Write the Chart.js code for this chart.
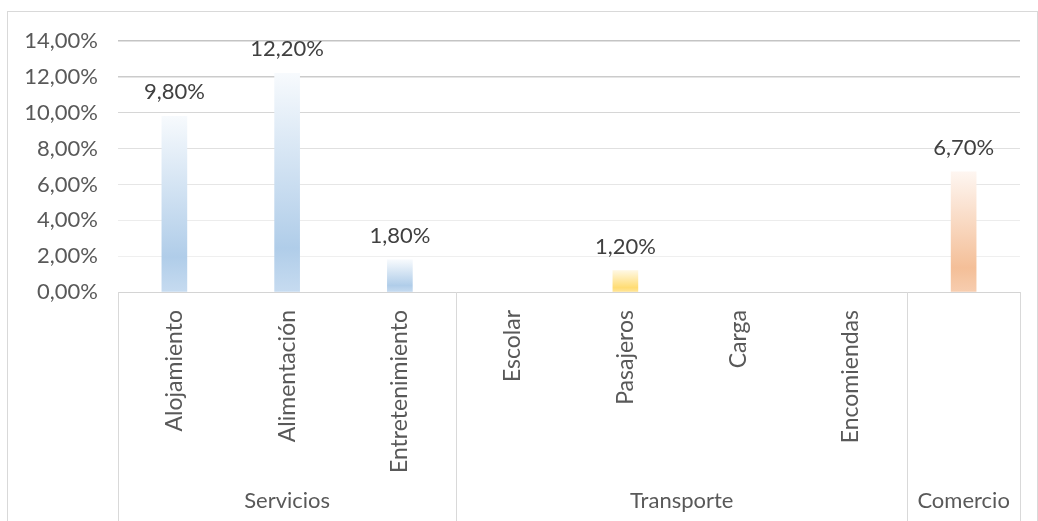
<!DOCTYPE html>
<html>
<head>
<meta charset="utf-8">
<script src="https://cdn.jsdelivr.net/npm/chart.js@4"></script>
<style>
  html, body { margin: 0; padding: 0; background: #fff; }
  #wrap { position: relative; width: 1038px; height: 521px; }
</style>
</head>
<body>
<div id="wrap"><canvas id="chart" width="1038" height="521"></canvas></div>
<script>
// chart data
const categories = ['Alojamiento', 'Alimentación', 'Entretenimiento', 'Escolar', 'Pasajeros', 'Carga', 'Encomiendas', ''];
const values = [9.8, 12.2, 1.8, 0, 1.2, 0, 0, 6.7];
const groups = ['Servicios', 'Transporte', 'Comercio'];
const groupSizes = [3, 4, 1];
const yTicks = [0, 2, 4, 6, 8, 10, 12, 14];

// colour per group: [top, full, bottom]
const groupColors = [
  ['#f7fafd', '#b0cde9', '#c6dbf0'],
  ['#fff8e3', '#ffdc73', '#ffe59a'],
  ['#fef6f1', '#f4bf98', '#f7cdaf']
];

const fontFamily = 'Lato, "Open Sans", sans-serif';
const axisColor = '#d9d9d9';
// gridlines look darker towards the top in the original
const gridColors = { 0: '#d4d4d4', 2: '#efefef', 4: '#ececec', 6: '#e6e6e6', 8: '#e0e0e0', 10: '#d6d6d6', 12: '#cbcbcb', 14: '#c4c4c4' };

function groupOf(index) {
  let acc = 0;
  for (let g = 0; g < groupSizes.length; g++) {
    acc += groupSizes[g];
    if (index < acc) return g;
  }
  return groupSizes.length - 1;
}

function fmt(v) {
  return v.toFixed(2).replace('.', ',') + '%';
}

function barFill(ctx) {
  const chart = ctx.chart;
  const v = values[ctx.dataIndex];
  const cols = groupColors[groupOf(ctx.dataIndex)];
  if (!v) return 'rgba(0,0,0,0)';
  if (!chart.chartArea || !chart.scales.y) return cols[1];
  const y = chart.scales.y;
  const top = y.getPixelForValue(v);
  const base = y.getPixelForValue(0);
  const g = chart.ctx.createLinearGradient(0, top, 0, base);
  g.addColorStop(0, cols[0]);
  g.addColorStop(0.8, cols[1]);
  g.addColorStop(1, cols[2]);
  return g;
}

// labels above bars, group labels and separators under the axis, outer frame
const extras = {
  id: 'extras',
  afterDatasetsDraw(chart) {
    const c = chart.ctx;
    const meta = chart.getDatasetMeta(0);
    c.save();
    c.font = '22px ' + fontFamily;
    c.fillStyle = '#404040';
    c.textAlign = 'center';
    c.textBaseline = 'middle';
    meta.data.forEach((bar, i) => {
      if (!values[i]) return;
      c.fillText(fmt(values[i]), bar.x, bar.y - 24);
    });
    c.restore();
  },
  afterDraw(chart) {
    const c = chart.ctx;
    const area = chart.chartArea;
    const step = (area.right - area.left) / categories.length;
    c.save();
    c.strokeStyle = axisColor;
    c.lineWidth = 1;
    // outer frame
    c.strokeRect(7.5, 11.5, 1030, 520);
    // group separators
    let idx = 0;
    const bounds = [area.left];
    groupSizes.forEach(n => { idx += n; bounds.push(area.left + idx * step); });
    bounds.forEach(bx => {
      const px = Math.round(bx) + 0.5;
      c.beginPath();
      c.moveTo(px, area.bottom);
      c.lineTo(px, 521);
      c.stroke();
    });
    // group labels
    c.font = '22px ' + fontFamily;
    c.fillStyle = '#595959';
    c.textAlign = 'center';
    c.textBaseline = 'middle';
    groups.forEach((name, g) => {
      c.fillText(name, (bounds[g] + bounds[g + 1]) / 2, 501);
    });
    c.restore();
  }
};

new Chart(document.getElementById('chart'), {
  type: 'bar',
  data: {
    labels: categories,
    datasets: [{
      data: values,
      backgroundColor: barFill,
      borderWidth: 0,
      barThickness: 25
    }]
  },
  options: {
    responsive: false,
    animation: false,
    layout: { padding: { top: 41, right: 18, left: 0, bottom: 0 } },
    plugins: {
      legend: { display: false },
      tooltip: { enabled: false }
    },
    scales: {
      x: {
        grid: { display: false },
        border: { display: false },
        ticks: {
          minRotation: 90,
          maxRotation: 90,
          autoSkip: false,
          padding: 10,
          color: '#595959',
          font: { family: fontFamily, size: 23 }
        },
        afterFit(scale) { scale.height = 229; }
      },
      y: {
        min: 0,
        max: 14,
        afterBuildTicks(scale) { scale.ticks = yTicks.map(v => ({ value: v })); },
        grid: {
          color: ctx => (ctx.tick && gridColors[ctx.tick.value]) || axisColor,
          lineWidth: ctx => ctx.tick && ctx.tick.value >= 12 ? 1.5 : 1,
          drawTicks: false
        },
        border: { display: false },
        ticks: {
          padding: 20,
          color: '#595959',
          font: { family: fontFamily, size: 22 },
          callback: v => fmt(v)
        },
        afterFit(scale) { scale.width = 118; }
      }
    }
  },
  plugins: [extras]
});
</script>
</body>
</html>
